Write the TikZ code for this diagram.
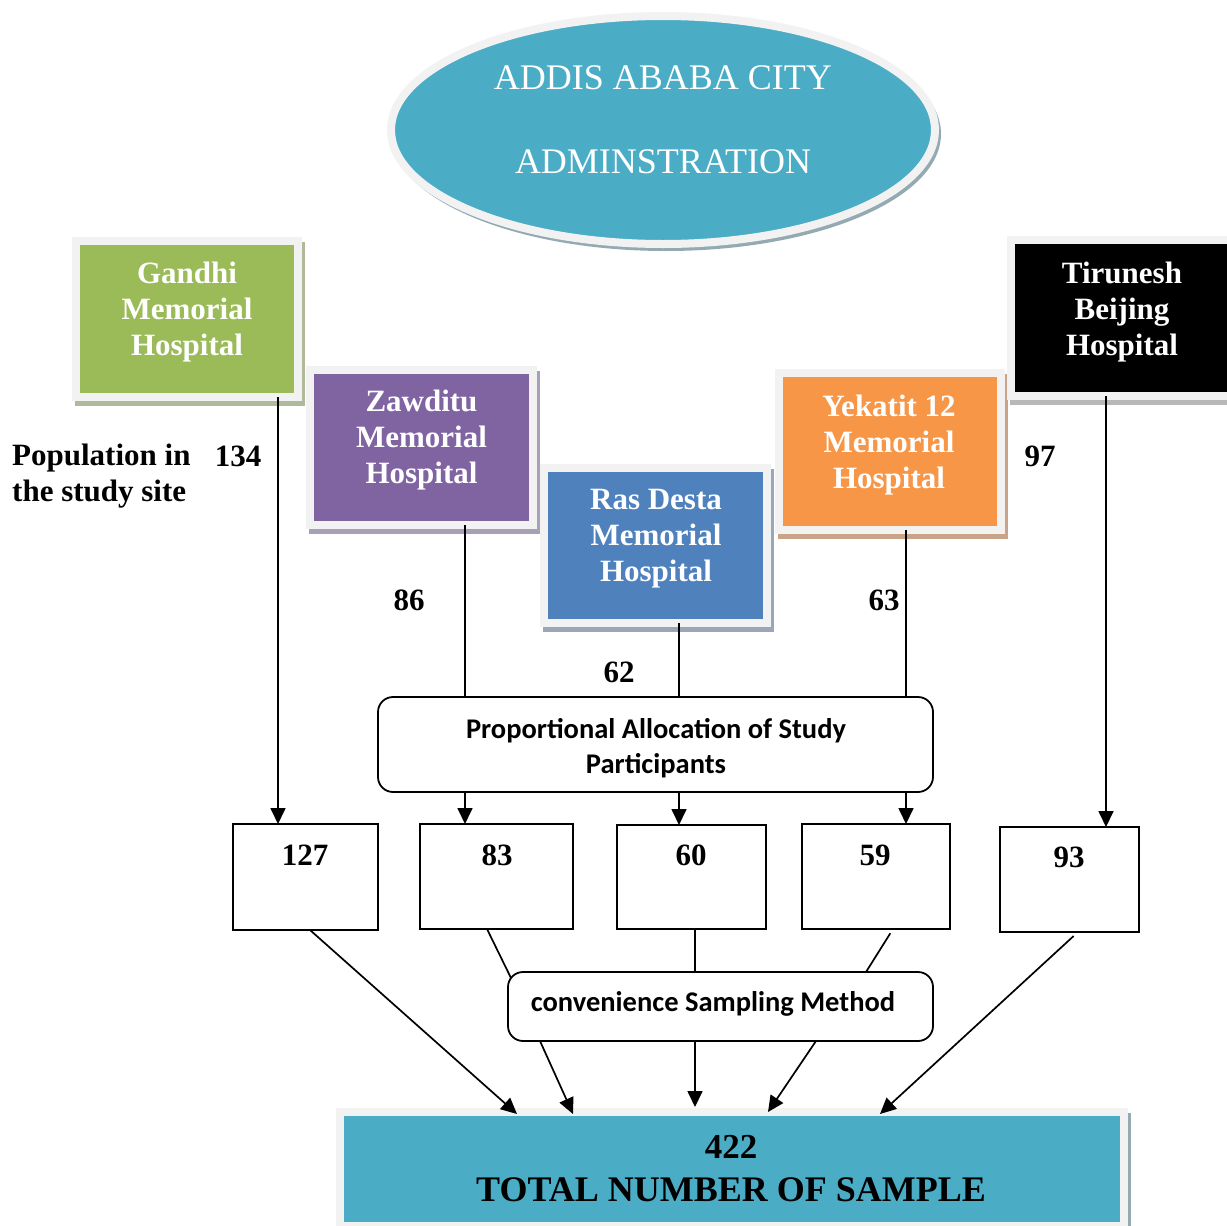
\documentclass[tikz,border=0pt]{standalone}
\usepackage{fontspec}
\setmainfont{Liberation Serif}
\newfontfamily\calib{Carlito}
\usetikzlibrary{shapes.geometric,arrows.meta,backgrounds}
\definecolor{tealA}{HTML}{4BACC6}
\definecolor{frameG}{HTML}{F2F2F2}
\definecolor{hgreen}{HTML}{9BBB59}
\definecolor{hpurple}{HTML}{8064A2}
\definecolor{hblue}{HTML}{4F81BD}
\definecolor{horange}{HTML}{F79646}
\definecolor{shGreen}{HTML}{B0B99A}
\definecolor{shPurple}{HTML}{A7A0B6}
\definecolor{shBlue}{HTML}{9AA7B9}
\definecolor{shOrange}{HTML}{C9A488}
\definecolor{shBlack}{HTML}{B8B8B8}
\definecolor{shTeal}{HTML}{93AAB2}
\newcommand\myshadow[2]{\fill[#2] ([shift={(-1,1)}]#1.north west) rectangle ([shift={(7,9)}]#1.south east);}
\begin{document}
\begin{tikzpicture}[x=1pt,y=-1pt,
  hosp/.style={rectangle, draw=frameG, line width=8pt, inner sep=0pt, outer sep=0pt},
  htext/.style={text=white, font=\fontsize{31}{36}\selectfont\bfseries, align=center, inner sep=0pt, anchor=north},
  numbox/.style={rectangle, draw=black, line width=1.8pt, inner sep=0pt, outer sep=0pt},
  num/.style={font=\fontsize{31}{36}\selectfont\bfseries, inner sep=0pt},
  rbox/.style={rectangle, rounded corners=15pt, draw=black, line width=1.8pt, fill=white, inner sep=0pt, outer sep=0pt},
  ctext/.style={font=\calib\bfseries\fontsize{28.5}{35}\selectfont, align=center, inner sep=0pt},
  ln/.style={line width=1.7pt},
  arr/.style={line width=1.7pt, -{Triangle[width=15pt,length=16pt]}}
]
\useasboundingbox (0,0) rectangle (1227,1226);

% top ellipse
\node[ellipse, draw=frameG, line width=8pt, fill=tealA, minimum width=544pt, minimum height=228pt, inner sep=0pt] (city) at (663,130) {};
\node[text=white, font=\fontsize{36}{40}\selectfont, inner sep=0pt] (cityA) at (663,78) {ADDIS ABABA CITY};
\node[text=white, font=\fontsize{36}{40}\selectfont, inner sep=0pt] (cityB) at (663,162) {ADMINSTRATION};

% hospitals
\node[hosp, fill=hgreen, minimum width=222pt, minimum height=156pt] (gandhi) at (187,319) {};
\node[htext] (gandhiT) at (187,262) {Gandhi\\Memorial\\Hospital};
\node[hosp, fill=hpurple, minimum width=223pt, minimum height=155pt] (zaw) at (421.5,447.5) {};
\node[htext] (zawT) at (421.5,390) {Zawditu\\Memorial\\Hospital};
\node[hosp, fill=hblue, minimum width=223pt, minimum height=155pt] (ras) at (655.5,545.5) {};
\node[htext] (rasT) at (656,489) {Ras Desta\\Memorial\\Hospital};
\node[hosp, fill=horange, minimum width=222pt, minimum height=157pt] (yek) at (890,451.5) {};
\node[htext] (yekT) at (889,395) {Yekatit 12\\Memorial\\Hospital};
\node[hosp, fill=black, minimum width=222pt, minimum height=156pt] (tir) at (1122,318) {};
\node[htext] (tirT) at (1122,262) {Tirunesh\\Beijing\\Hospital};

% side labels
\node[anchor=north west, font=\fontsize{31}{36}\selectfont\bfseries, align=left, inner sep=0pt] (pop) at (12,444) {Population in\\the study site};
\node[num] (n134) at (238,456) {134};
\node[num] (n86) at (409,600) {86};
\node[num] (n62) at (619,672) {62};
\node[num] (n63) at (884,600) {63};
\node[num] (n97) at (1040,456) {97};

% allocation box
\node[rbox, minimum width=555pt, minimum height=95pt] (prop) at (655.5,744.5) {};
\node[ctext] (propT) at (656,748) {Proportional Allocation of Study\\Participants};

% number boxes
\node[numbox, minimum width=145pt, minimum height=106pt] (b127) at (305.5,877) {};
\node[num] (t127) at (305,855) {127};
\node[numbox, minimum width=153pt, minimum height=105pt] (b83) at (496.5,876.5) {};
\node[num] (t83) at (497,855) {83};
\node[numbox, minimum width=149pt, minimum height=104pt] (b60) at (691.5,877) {};
\node[num] (t60) at (691,855) {60};
\node[numbox, minimum width=148pt, minimum height=105pt] (b59) at (876,876.5) {};
\node[num] (t59) at (875,855) {59};
\node[numbox, minimum width=139pt, minimum height=105pt] (b93) at (1069.5,879.5) {};
\node[num] (t93) at (1069,857) {93};

% convenience box
\node[rbox, minimum width=425pt, minimum height=69pt] (conv) at (720.5,1006.5) {};
\node[ctext] (convT) at (713,1004) {convenience Sampling Method};

% total box
\node[hosp, fill=tealA, minimum width=783.5pt, minimum height=114pt] (total) at (732,1169) {};
\node[font=\fontsize{35}{40}\selectfont\bfseries, inner sep=0pt] (t422) at (731,1147) {422};
\node[font=\fontsize{36}{40}\selectfont\bfseries, inner sep=0pt] (ttot) at (731,1190) {TOTAL NUMBER OF SAMPLE};

% shadows
\begin{scope}[on background layer]
  \fill[white] (0,0) rectangle (1227,1226);
  \fill[shTeal] ([shift={(3,4)}]city.center) ellipse [x radius=275, y radius=117];
  \myshadow{gandhi}{shGreen}
  \myshadow{zaw}{shPurple}
  \myshadow{ras}{shBlue}
  \myshadow{yek}{shOrange}
  \myshadow{tir}{shBlack}
  \myshadow{total}{shTeal}
\end{scope}

% column coordinates
\coordinate (xg) at (278,0);
\coordinate (xz) at (465,0);
\coordinate (xr) at (679,0);
\coordinate (xy) at (906,0);
\coordinate (xt) at (1106,0);
\coordinate (xm) at (695,0);

% upper connectors
\draw[arr] (gandhi.south -| xg) -- (b127.north -| xg);
\draw[ln] (zaw.south -| xz) -- (prop.north -| xz);
\draw[arr] (prop.south -| xz) -- (b83.north -| xz);
\draw[ln] (ras.south -| xr) -- (prop.north -| xr);
\draw[arr] (prop.south -| xr) -- (b60.north -| xr);
\draw[ln] (yek.south -| xy) -- (prop.north -| xy);
\draw[arr] (prop.south -| xy) -- (b59.north -| xy);
\draw[arr] (tir.south -| xt) -- (b93.north -| xt);

% lower connectors
\draw[arr] ([xshift=4.5pt]b127.south) -- ([xshift=-215pt,yshift=-2pt]total.north);
\draw[ln] ([xshift=-9.5pt]b83.south) -- ([shift={(3,6)}]conv.north west);
\draw[arr] ([xshift=32pt]conv.south west) -- ([xshift=-159pt,yshift=-2pt]total.north);
\draw[ln] (b60.south -| xm) -- (conv.north -| xm);
\draw[arr, shorten >=5pt] (conv.south -| xm) -- (total.north -| xm);
\draw[ln, shorten <=5pt] ([xshift=17pt]b59.south) -- ([xshift=145.5pt]conv.north);
\draw[arr] ([xshift=95.5pt]conv.south) -- ([xshift=36pt]total.north);
\draw[arr, shorten <=6pt] ([xshift=8.5pt]b93.south) -- ([xshift=148pt,yshift=-2pt]total.north);
\end{tikzpicture}
\end{document}
